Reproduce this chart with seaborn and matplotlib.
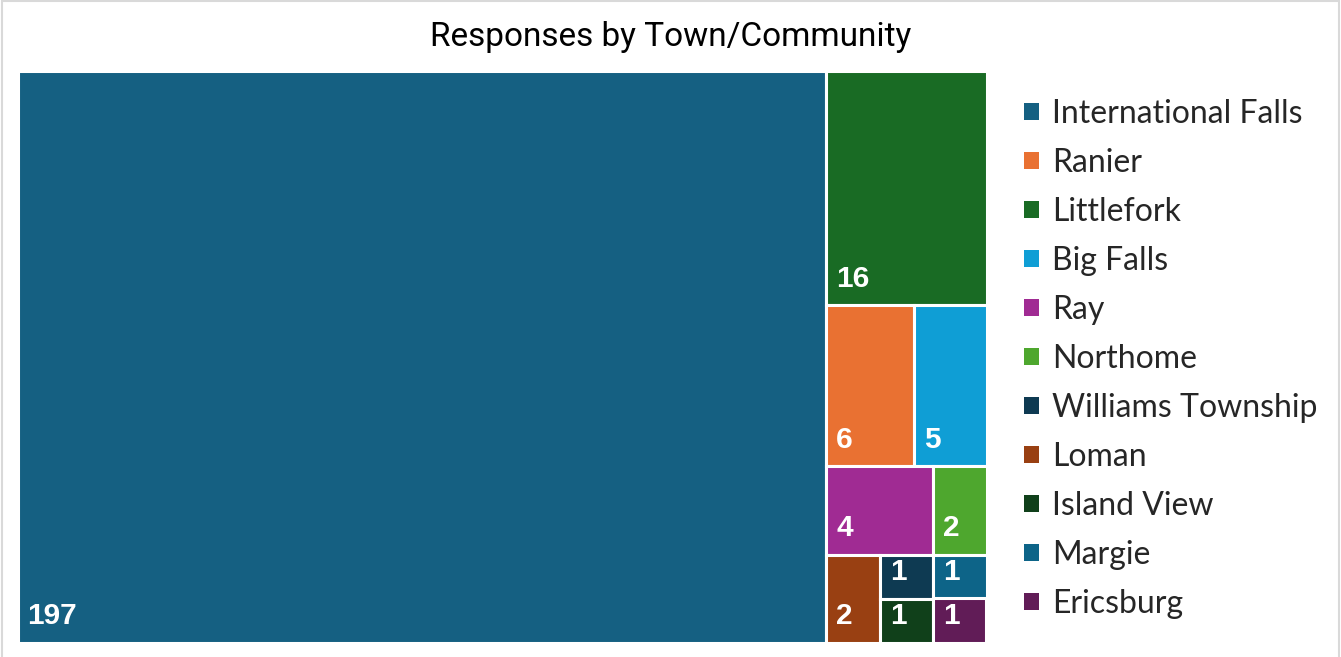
import matplotlib
matplotlib.use("Agg")
import matplotlib.pyplot as plt
from matplotlib.patches import Patch, Rectangle
import seaborn as sns

# Survey responses per town/community
towns = ["International Falls", "Ranier", "Littlefork", "Big Falls", "Ray",
         "Northome", "Williams Township", "Loman", "Island View", "Margie",
         "Ericsburg"]
responses = [197, 6, 16, 5, 4, 2, 1, 2, 1, 1, 1]
colors = ["#156082", "#E97132", "#196B24", "#0F9ED5", "#A02B93",
          "#4EA72E", "#0E3A52", "#994012", "#10401A", "#0D6488",
          "#611C57"]

sns.set_theme(style="white")
plt.rcParams["font.family"] = ["Lato", "DejaVu Sans"]


def worst_ratio(vals, short, scale):
    side = sum(vals) * scale / short
    r = 0
    for v in vals:
        length = v * scale / side
        r = max(r, side / length, length / side)
    return r


def squarify(values, w, h, tol=1.25):
    """Squarified treemap layout; y grows downward from the top-left corner."""
    order = sorted(range(len(values)), key=lambda i: -values[i])
    scale = w * h / sum(values)
    x0, y0 = 0.0, 0.0
    rects = {}
    pos = 0
    while pos < len(order):
        short = min(w, h)
        row = [order[pos]]
        pos += 1
        while pos < len(order):
            cur = worst_ratio([values[i] for i in row], short, scale)
            new = worst_ratio([values[i] for i in row + [order[pos]]], short, scale)
            if new <= tol * cur:
                row.append(order[pos])
                pos += 1
            else:
                break
        total = sum(values[i] for i in row) * scale
        if w >= h:
            cw = total / h
            yy = y0
            for i in row:
                hh = values[i] * scale / cw
                rects[i] = (x0, yy, cw, hh)
                yy += hh
            x0 += cw
            w -= cw
        else:
            rh = total / w
            xx = x0
            for i in row:
                ww = values[i] * scale / rh
                rects[i] = (xx, y0, ww, rh)
                xx += ww
            y0 += rh
            h -= rh
    return rects


W_PX, H_PX = 1341, 657
fig = plt.figure(figsize=(W_PX / 100, H_PX / 100), dpi=100)

# chart frame
fig.patches.append(Rectangle((1.5 / W_PX, -0.01), (W_PX - 3.5) / W_PX, 1.0 - 0.5 / H_PX + 0.01,
                             transform=fig.transFigure, fill=False,
                             edgecolor="#D9D9D9", linewidth=1.5))

left, right, top, bottom = 17.5, 986.5, 70.5, 642.5
ax = fig.add_axes([left / W_PX, 1 - bottom / H_PX,
                   (right - left) / W_PX, (bottom - top) / H_PX])
aw, ah = right - left, bottom - top
rects = squarify(responses, aw, ah)

for i, (x, y, w, h) in rects.items():
    ax.bar(x, h, width=w, bottom=y, align="edge", color=colors[i],
           edgecolor="white", linewidth=2.2)
    ax.annotate(str(responses[i]), xy=(x, y + h), xytext=(10, 18),
                textcoords="offset pixels",
                color="white", fontsize=21.5, fontweight="bold",
                family=["Liberation Sans", "DejaVu Sans"],
                ha="left", va="baseline")

ax.set_xlim(0, aw)
ax.set_ylim(ah, 0)
ax.set_axis_off()

fig.text(671 / W_PX, 1 - 37 / H_PX, "Responses by Town/Community",
         ha="center", va="center", fontsize=24, color="black",
         family=["Roboto", "DejaVu Sans"])

handles = [Patch(facecolor=c, edgecolor="none") for c in colors]
fig.legend(handles, towns, loc="upper left",
           bbox_to_anchor=(1024 / W_PX, 1 - 99 / H_PX),
           frameon=False, fontsize=23, handlelength=0.47, handleheight=0.47,
           handletextpad=0.41, labelspacing=0.595, borderaxespad=0, borderpad=0)

fig.savefig("out.png", dpi=100)
